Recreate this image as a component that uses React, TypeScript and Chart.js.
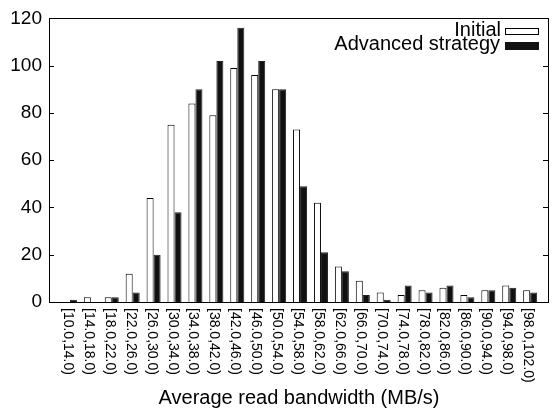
import React, { useEffect, useRef } from "react";
import { Chart, registerables } from "chart.js";

Chart.register(...registerables);

const categories = [
  "[10.0,14.0)", "[14.0,18.0)", "[18.0,22.0)", "[22.0,26.0)", "[26.0,30.0)",
  "[30.0,34.0)", "[34.0,38.0)", "[38.0,42.0)", "[42.0,46.0)", "[46.0,50.0)",
  "[50.0,54.0)", "[54.0,58.0)", "[58.0,62.0)", "[62.0,66.0)", "[66.0,70.0)",
  "[70.0,74.0)", "[74.0,78.0)", "[78.0,82.0)", "[82.0,86.0)", "[86.0,90.0)",
  "[90.0,94.0)", "[94.0,98.0)", "[98.0,102.0)",
];
const initialValues = [0, 2, 2, 12, 44, 75, 84, 79, 99, 96, 90, 73, 42, 15, 9, 4, 3, 5, 6, 3, 5, 7, 5];
const advancedValues = [1, 0, 2, 4, 20, 38, 90, 102, 116, 102, 90, 49, 21, 13, 3, 1, 7, 4, 7, 2, 5, 6, 4];
const yTicks = [0, 20, 40, 60, 80, 100, 120];
const seriesNames = ["Initial", "Advanced strategy"];
const xTitle = "Average read bandwidth (MB/s)";

const FONT = "'Liberation Sans', Arial, Helvetica, sans-serif";

const decorPlugin = {
  id: "decor",
  afterDraw(chart: any) {
    const ctx = chart.ctx;
    const area = chart.chartArea;
    const xs = chart.scales.x;
    const ys = chart.scales.y;
    ctx.save();
    ctx.strokeStyle = "#000";
    ctx.lineWidth = 1;
    ctx.strokeRect(Math.round(area.left) + 0.5, Math.round(area.top) + 0.5,
      Math.round(area.right - area.left) - 1, Math.round(area.bottom - area.top));
    ctx.beginPath();
    yTicks.forEach((v) => {
      const y = Math.round(ys.getPixelForValue(v)) + 0.5;
      ctx.moveTo(area.left, y);
      ctx.lineTo(area.left + 5, y);
      ctx.moveTo(area.right - 1, y);
      ctx.lineTo(area.right - 6, y);
    });
    ctx.stroke();
    ctx.fillStyle = "#000";
    ctx.font = `14px ${FONT}`;
    ctx.textAlign = "left";
    ctx.textBaseline = "alphabetic";
    categories.forEach((lab, i) => {
      const x = xs.getPixelForValue(i);
      ctx.save();
      ctx.translate(x - 6, area.bottom + 6);
      ctx.rotate(Math.PI / 2);
      ctx.fillText(lab, 0, 0);
      ctx.restore();
    });
    ctx.font = `20px ${FONT}`;
    ctx.textAlign = "center";
    ctx.fillText(xTitle, (area.left + area.right) / 2, 404);
    ctx.textAlign = "right";
    ctx.fillText(seriesNames[0], 501, 36);
    ctx.fillText(seriesNames[1], 500, 50);
    ctx.fillStyle = "#fff";
    ctx.fillRect(505, 28, 33, 6);
    ctx.strokeRect(505.5, 28.5, 33, 6);
    ctx.fillStyle = "#111";
    ctx.fillRect(505, 42, 34, 8);
    ctx.restore();
  },
};

export default function App() {
  const ref = useRef<HTMLCanvasElement | null>(null);
  useEffect(() => {
    if (!ref.current) return;
    const chart = new Chart(ref.current, {
      type: "bar",
      data: {
        datasets: [
          {
            label: seriesNames[0],
            data: initialValues.map((v, i) => ({ x: i, y: v })),
            backgroundColor: "#ffffff",
            borderColor: "#000000",
            borderWidth: 1,
          },
          {
            label: seriesNames[1],
            data: advancedValues.map((v, i) => ({ x: i, y: v })),
            backgroundColor: "#111111",
            borderColor: "#222222",
            borderWidth: 1,
          },
        ],
      },
      options: {
        animation: false,
        responsive: false,
        layout: { padding: { top: 17, right: 3, bottom: 109, left: 0 } },
        datasets: { bar: { categoryPercentage: 0.67, barPercentage: 1.0 } },
        plugins: { legend: { display: false }, tooltip: { enabled: false } },
        scales: {
          x: { type: "linear", min: -1, max: 22.9, offset: false, display: false },
          y: {
            min: 0,
            max: 120,
            afterFit: (s: any) => { s.width = 49; },
            afterBuildTicks: (s: any) => { s.ticks = yTicks.map((v) => ({ value: v })); },
            grid: { display: false, drawTicks: false },
            border: { display: false },
            ticks: { color: "#000", padding: 7, font: { family: FONT, size: 19 } },
          },
        },
      },
      plugins: [decorPlugin],
    });
    return () => chart.destroy();
  }, []);
  return (
    <div style={{ position: "fixed", left: 0, top: 0, width: 552, height: 411, background: "#fff" }}>
      <canvas ref={ref} width={552} height={411} />
    </div>
  );
}
